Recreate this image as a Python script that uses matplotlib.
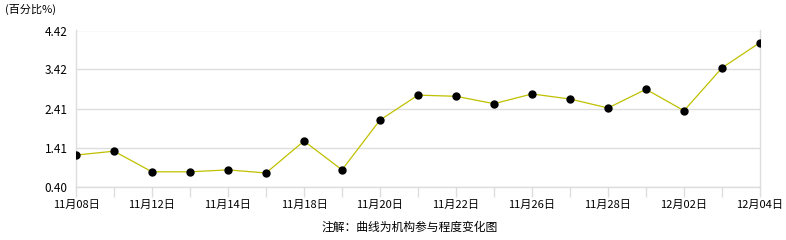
import matplotlib
matplotlib.use('Agg')
import matplotlib.pyplot as plt

plt.rcParams['font.family'] = ['Noto Sans CJK SC', 'DejaVu Sans']

# dates (trading days) and participation values
dates = ['11月08日', '11月11日', '11月12日', '11月13日', '11月14日', '11月15日',
         '11月18日', '11月19日', '11月20日', '11月21日', '11月22日', '11月25日',
         '11月26日', '11月27日', '11月28日', '11月29日', '12月02日', '12月03日',
         '12月04日']
values = [1.22, 1.32, 0.79, 0.79, 0.84, 0.76, 1.58, 0.84, 2.12, 2.76,
          2.73, 2.54, 2.79, 2.66, 2.43, 2.91, 2.36, 3.46, 4.11]
y_ticks = [0.40, 1.41, 2.41, 3.42, 4.42]
y_tick_labels = ['0.40', '1.41', '2.41', '3.42', '4.42']

fig = plt.figure(figsize=(7.86, 2.40), dpi=100)
ax = fig.add_axes([76 / 786, 1 - 187 / 240, 684 / 786, 156.5 / 240])

x = list(range(len(dates)))
ax.plot(x, values, color='#c0c000', linewidth=0.9, zorder=3)
ax.plot(x, values, 'o', color='black', markersize=5, zorder=4)

ax.set_xlim(0, len(dates) - 1)
ax.set_ylim(y_ticks[0], y_ticks[-1])

ax.set_yticks(y_ticks)
ax.set_yticklabels(y_tick_labels, fontsize=8.5)
ax.set_xticks(x)
ax.set_xticklabels([d if i % 2 == 0 else '' for i, d in enumerate(dates)], fontsize=8)

ax.grid(axis='y', color='#dddddd', linewidth=1)
ax.tick_params(axis='y', length=0, pad=6, colors='black')
ax.tick_params(axis='x', length=7, width=1, pad=2, colors='black')
ax.tick_params(axis='x', color='#dddddd')

for side in ['left', 'right', 'bottom']:
    ax.spines[side].set_color('#dddddd')
    ax.spines[side].set_linewidth(1)
ax.spines['top'].set_visible(False)

fig.text(5 / 786, 1 - 9 / 240, '(百分比%)', fontsize=8, va='center', ha='left')
fig.text(410 / 786, 1 - 227 / 240, '注解：曲线为机构参与程度变化图', fontsize=8.5,
         va='center', ha='center')

fig.savefig('out.png', dpi=100)
